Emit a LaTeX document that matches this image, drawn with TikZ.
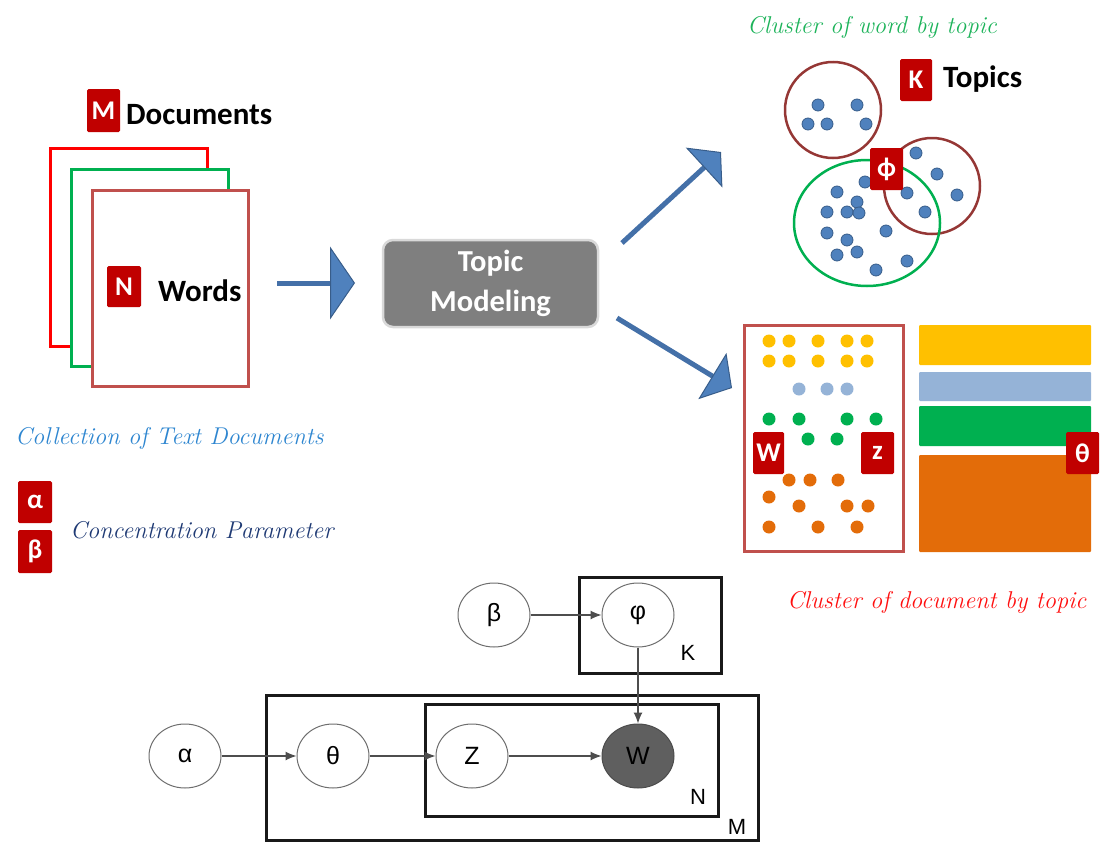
\documentclass[tikz,border=0pt]{standalone}
\usepackage{fontspec}
\usetikzlibrary{arrows.meta,shapes.geometric}
\newfontfamily\calibrif{Carlito}
\newfontfamily\arialf{Liberation Sans}
\definecolor{badgered}{HTML}{C00000}
\definecolor{docred}{HTML}{FF0000}
\definecolor{docgreen}{HTML}{00B050}
\definecolor{docbrown}{HTML}{C0504D}
\definecolor{ringbrown}{HTML}{953735}
\definecolor{arrowblue}{HTML}{4F81BD}
\definecolor{arrowedge}{HTML}{385D8A}
\definecolor{arrowshaft}{HTML}{4470A8}
\definecolor{boxgray}{HTML}{7F7F7F}
\definecolor{boxedge}{HTML}{D9D9D9}
\definecolor{dotyellow}{HTML}{FFC000}
\definecolor{dotlight}{HTML}{95B3D7}
\definecolor{dotgreen}{HTML}{00B050}
\definecolor{dotorange}{HTML}{E36C09}
\definecolor{textblue}{HTML}{2E86D0}
\definecolor{textnavy}{HTML}{1F3A74}
\definecolor{textgreen}{HTML}{1DB35A}
\definecolor{textred}{HTML}{FF1010}
\definecolor{gline}{HTML}{4D4D4D}
\definecolor{gring}{HTML}{6E6E6E}
\definecolor{wfill}{HTML}{5F5F5F}
\begin{document}
\begin{tikzpicture}[x=1pt,y=-1pt,
  badge/.style={fill=badgered, rounded corners=1.5pt, inner sep=0pt, text=white,
    font=\calibrif\bfseries\fontsize{27}{30}\selectfont},
  boldlabel/.style={inner sep=0pt, font=\calibrif\bfseries\fontsize{31}{35}\selectfont},
  scriptlabel/.style={inner sep=0pt, font=\itshape\fontsize{24.3}{28}\selectfont},
  docpage/.style={rectangle, line width=3pt, fill=white, inner sep=0pt},
  bigarrow/.style={line width=5pt, draw=arrowshaft,
    -{Triangle[width=73pt,length=25pt,line width=1pt,color=arrowedge,fill=arrowblue]}},
  slantarrow/.style={line width=5pt, draw=arrowshaft,
    -{Triangle[width=54pt,length=23pt,line width=1pt,color=arrowedge,fill=arrowblue]}},
  ring/.style={draw=ringbrown, line width=2.5pt},
  bluedot/.style={fill=arrowblue, draw=arrowedge, line width=0.8pt},
  gnode/.style={ellipse, draw=gring, line width=1pt, fill=white, minimum width=72pt,
    minimum height=64pt, inner sep=0pt, font=\arialf\fontsize{25}{28}\selectfont},
  plate/.style={rectangle, draw=black!90, line width=3pt, inner sep=0pt},
  platelabel/.style={inner sep=0pt, font=\arialf\fontsize{22}{24}\selectfont},
  garrow/.style={draw=gline, line width=1.2pt, -{Latex[length=11pt,width=9pt]}}
]
\useasboundingbox (0,0) rectangle (1104,846);

% ---------- stack of documents ----------
\node[docpage, draw=docred, minimum width=157pt, minimum height=198pt] (pageA) at (128.5,247) {};
\node[docpage, draw=docgreen, minimum width=157pt, minimum height=197pt] (pageB) at (149.5,267.5) {};
\node[docpage, draw=docbrown, minimum width=156pt, minimum height=196pt] (pageC) at (170,288) {};
\node[badge, minimum width=33pt, minimum height=43pt] (mbadge) at (103.5,110.5) {M};
\node[boldlabel, anchor=base west] (doclabel) at (126,124) {Documents};
\node[badge, minimum width=34pt, minimum height=41pt] (nbadge) at (124,286.5) {N};
\node[boldlabel, anchor=base west] (wordlabel) at (158,301) {Words};

\node[scriptlabel, anchor=base west, text=textblue] (collection) at (15,444) {Collection of Text Documents};
\node[badge, minimum width=34pt, minimum height=42pt] (alphabadge) at (35,502) {α};
\node[badge, minimum width=34pt, minimum height=43pt] (betabadge) at (35,551.5) {β};
\node[scriptlabel, anchor=base west, text=textnavy] (concentration) at (70,538) {Concentration Parameter};

% ---------- topic modeling step ----------
\node[rectangle, rounded corners=10pt, fill=boxgray, draw=boxedge, line width=2.5pt,
  minimum width=215pt, minimum height=87pt, align=center, text=white,
  font=\calibrif\bfseries\fontsize{30.5}{40}\selectfont] (tm) at (490.5,283.5) {Topic\\Modeling};

\coordinate (inStart) at (277,283);
\coordinate (inEnd) at (355,283);
\draw[bigarrow] (inStart) -- (inEnd);
\coordinate (upStart) at (622,243);
\coordinate (upEnd) at (721,152);
\draw[slantarrow] (upStart) -- (upEnd);
\coordinate (downStart) at (617,318);
\coordinate (downEnd) at (732,388);
\draw[slantarrow] (downStart) -- (downEnd);

% ---------- word clusters ----------
\node[scriptlabel, anchor=base west, text=textgreen] (wordcluster) at (747,33) {Cluster of word by topic};
\draw[ring] (833,110) circle (48pt);
\draw[ring] (932,186) circle (48pt);
\draw[draw=docgreen, line width=2.5pt] (867,223) ellipse [x radius=73pt, y radius=63pt];
\foreach \p in {(818,105),(857,105),(808,124),(827,124),(866,124),
  (916,153),(937,174),(957,195),(907,193),(925,212),
  (865,182),(837,192),(857,202),(827,212),(847,212),(859,213),(827,233),
  (847,240),(886,231),(837,255),(857,252),(876,270),(907,261)}
  \filldraw[bluedot] \p circle (6pt);
\node[badge, minimum width=32pt, minimum height=42pt] (kbadge) at (916,80) {K};
\node[boldlabel, anchor=base west] (topiclabel) at (943,87) {Topics};
\node[badge, minimum width=33pt, minimum height=42pt] (phibadge) at (886.5,169) {ϕ};

% ---------- document clusters ----------
\node[rectangle, draw=docbrown, line width=3pt, minimum width=159pt, minimum height=226pt,
  inner sep=0pt] (wordbox) at (823.5,438) {};
\foreach \p in {(769,341),(789,341),(818,341),(847,341),(867,341),
  (769,361),(789,361),(818,361),(847,361),(867,361)}
  \fill[dotyellow] \p circle (6.5pt);
\foreach \p in {(799,389),(827,389),(847,389)}
  \fill[dotlight] \p circle (6.5pt);
\foreach \p in {(769,419),(799,419),(847,419),(876,419),(808,439),(837,439)}
  \fill[dotgreen] \p circle (6.5pt);
\foreach \p in {(789,480),(810,480),(838,480),(769,497),(799,506),(847,506),(868,506),
  (769,527),(818,527),(857,527)}
  \fill[dotorange] \p circle (6.5pt);
\node[badge, minimum width=31pt, minimum height=42pt] (wbadge) at (768.5,453) {W};
\node[badge, minimum width=33pt, minimum height=42pt] (zbadge) at (877.5,453) {z};

\fill[dotyellow, rounded corners=1pt] (919,325) rectangle (1091,365);
\fill[dotlight, rounded corners=1pt] (919,372) rectangle (1091,401);
\fill[dotgreen, rounded corners=1pt] (919,406) rectangle (1091,446);
\fill[dotorange, rounded corners=1pt] (919,455) rectangle (1091,552);
\node[badge, minimum width=33pt, minimum height=42pt] (thetabadge) at (1082.5,453) {θ};
\node[scriptlabel, anchor=base west, text=textred] (doccluster) at (787,608) {Cluster of document by topic};

% ---------- plate notation ----------
\node[plate, minimum width=142pt, minimum height=96pt] (plateK) at (650,625) {};
\node[plate, minimum width=492pt, minimum height=145pt] (plateM) at (512,767.5) {};
\node[plate, minimum width=293pt, minimum height=112pt] (plateN) at (571.5,760) {};
\node[platelabel] (klab) at (688,653) {K};
\node[platelabel] (nlab) at (698,797) {N};
\node[platelabel] (mlab) at (737,827) {M};

\node[gnode] (beta) at (494,615) {β};
\node[gnode] (phi) at (638,615) {φ};
\node[gnode] (alpha) at (185,756) {α};
\node[gnode] (theta) at (333,756) {θ};
\node[gnode] (z) at (472,756) {Z};
\node[gnode, fill=wfill, draw=black!70, text=black] (w) at (638,756) {W};

\draw[garrow] (beta) -- (phi);
\draw[garrow] (phi) -- (w);
\draw[garrow] (alpha) -- (theta);
\draw[garrow] (theta) -- (z);
\draw[garrow] (z) -- (w);
\end{tikzpicture}
\end{document}
